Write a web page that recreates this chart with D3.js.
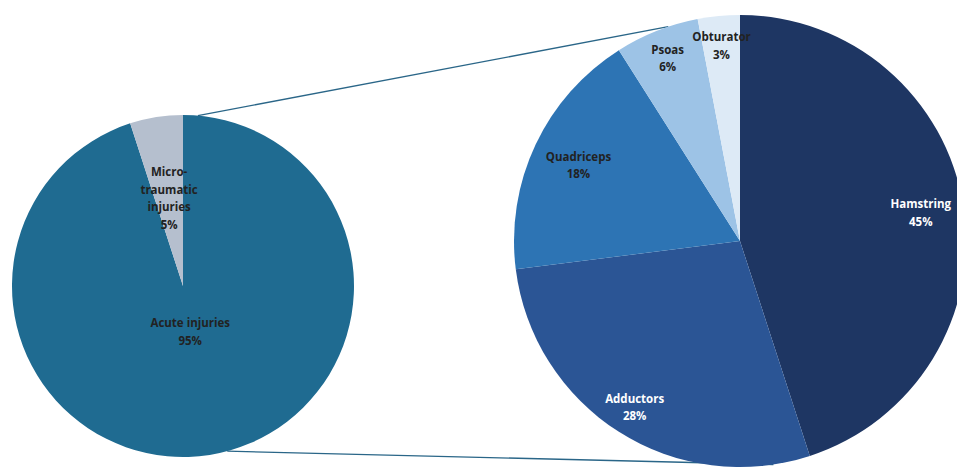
<!DOCTYPE html>
<html lang="en">
<head>
    <meta charset="UTF-8">
    <title>Muscle injuries</title>
    <script src="https://d3js.org/d3.v7.min.js"></script>
    <style>
        html, body { margin: 0; padding: 0; background: #fff; }
        svg { display: block; }
        .lbl {
            font-family: "Open Sans", "Liberation Sans", sans-serif;
            font-size: 11.5px;
            font-weight: 700;
            text-anchor: middle;
        }
    </style>
</head>
<body>
    <svg width="957" height="468"></svg>
    <script>
        // left pie: injury type
        const typeNames = ["Acute injuries", "Micro-traumatic injuries"];
        const typeValues = [95, 5];

        // right pie: acute injuries by muscle
        const muscleNames = ["Hamstring", "Adductors", "Quadriceps", "Psoas", "Obturator"];
        const muscleValues = [45, 28, 18, 6, 3];

        // label lines as they wrap in the picture
        const typeLabelLines = [["Acute injuries"], ["Micro-", "traumatic", "injuries"]];
        const muscleLabelLines = [["Hamstring"], ["Adductors"], ["Quadriceps"], ["Psoas"], ["Obturator"]];

        const typeColors = ["#1f6b91", "#b5bfce"];
        const muscleColors = ["#1e3663", "#2b5595", "#2d74b4", "#9dc3e6", "#ddeaf6"];
        const muscleText = ["#fff", "#fff", "#222", "#222", "#222"];

        const svg = d3.select("svg");

        const left = {cx: 183, cy: 286, r: 171};
        const right = {cx: 740, cy: 241, r: 226};

        // connector lines from the small slice to the exploded pie
        const pt = (p, deg) => {
            const a = deg * Math.PI / 180;
            return [p.cx + p.r * Math.sin(a), p.cy - p.r * Math.cos(a)];
        };
        const connectors = [
            [pt(left, 5), pt(right, -18.5)],
            [pt(left, 165), pt(right, 171.5)]
        ];
        svg.selectAll(".conn")
            .data(connectors)
            .enter().append("line")
            .attr("class", "conn")
            .attr("x1", d => d[0][0]).attr("y1", d => d[0][1])
            .attr("x2", d => d[1][0]).attr("y2", d => d[1][1])
            .attr("stroke", "#2a6688")
            .attr("stroke-width", 1.4);

        function drawPie(names, values, colors, textColors, lines, p, labelFactor) {
            const pie = d3.pie().sort(null).value(d => d)
            const arcs = pie(values);
            const g = svg.append("g").attr("transform", `translate(${p.cx},${p.cy})`);
            const arc = d3.arc().innerRadius(0).outerRadius(p.r);

            g.selectAll("path")
                .data(arcs)
                .enter().append("path")
                .attr("d", arc)
                .attr("fill", (d, i) => colors[i]);

            arcs.forEach((d, i) => {
                const k = labelFactor[i] * p.r;
                const c = d3.arc().innerRadius(k).outerRadius(k).centroid(d);
                const txt = lines[i].concat([values[i] + "%"]);
                const lh = 17.5;
                const t = g.append("text")
                    .attr("class", "lbl")
                    .attr("fill", textColors[i])
                    .attr("x", c[0])
                    .attr("y", c[1] - (txt.length - 1) * lh / 2 + 4.5);
                txt.forEach((s, j) => {
                    t.append("tspan")
                        .attr("x", c[0])
                        .attr("dy", j === 0 ? 0 : lh)
                        .text(s);
                });
            });
        }

        drawPie(typeNames, typeValues, typeColors, ["#222", "#222"],
            typeLabelLines, left, [0.27, 0.52]);
        drawPie(muscleNames, muscleValues, muscleColors, muscleText,
            muscleLabelLines, right, [0.81, 0.87, 0.79, 0.87, 0.87]);
    </script>
</body>
</html>
